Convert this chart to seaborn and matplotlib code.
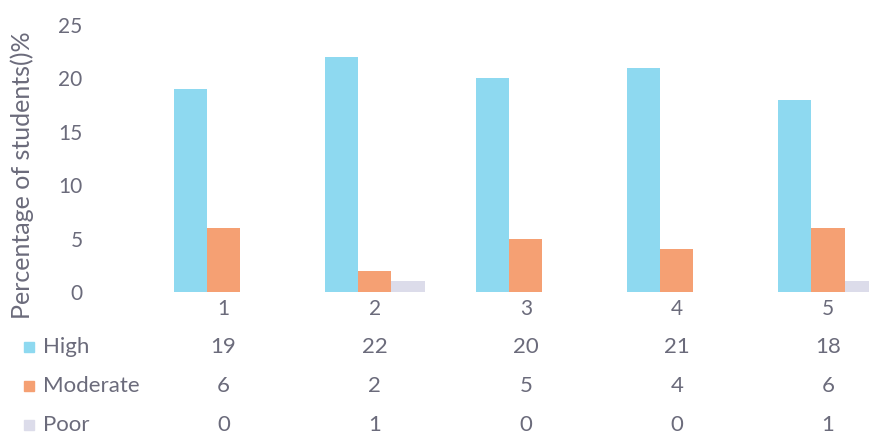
import matplotlib
matplotlib.use("Agg")
import matplotlib.pyplot as plt
import matplotlib.transforms as mtransforms
from matplotlib.patches import Rectangle
import pandas as pd
import seaborn as sns

categories = ["1", "2", "3", "4", "5"]
series = ["High", "Moderate", "Poor"]
high = [19, 22, 20, 21, 18]
moderate = [6, 2, 5, 4, 6]
poor = [0, 1, 0, 0, 1]
colors = ["#8ed9f0", "#f5a073", "#dcdcea"]

df = pd.DataFrame({
    "cat": categories * 3,
    "level": [s for s in series for _ in categories],
    "value": high + moderate + poor,
})

sns.set_style("white")
plt.rcParams["font.family"] = ["Lato", "DejaVu Sans"]
text_col = "#6b6b7b"

W, H = 869, 434
fig = plt.figure(figsize=(W / 100, H / 100), dpi=100)
ax = fig.add_axes([148 / W, (H - 292) / H, (W - 148) / W, (292 - 25) / H])

sns.barplot(data=df, x="cat", y="value", hue="level", palette=colors,
            saturation=1, width=0.66, gap=0, linewidth=0, ax=ax, legend=False)

ax.set_ylim(0, 25)
ax.set_xlim(-0.5, (W - 224) / 151)
ax.set_yticks([0, 5, 10, 15, 20, 25])
ax.set_xticks([])
ax.set_xlabel("")
ax.set_ylabel("")
ax.tick_params(axis="y", labelsize=15, labelcolor=text_col, length=0, pad=47)
for sp in ax.spines.values():
    sp.set_visible(False)

fig.text(22 / W, 1 - 175 / H, "Percentage of students()%", rotation=90,
         ha="center", va="center", fontsize=18, color=text_col)

# data table under the chart
trans = mtransforms.blended_transform_factory(ax.transData, fig.transFigure)
for i, c in enumerate(categories):
    ax.text(i, 1 - 309 / H, c, transform=trans, ha="center", va="center",
            fontsize=15, color=text_col, clip_on=False)

rows_y = [347, 386, 425]
for name, vals, col, yy in zip(series, [high, moderate, poor], colors, rows_y):
    fig.patches.append(Rectangle((24 / W, 1 - (yy + 5) / H), 10 / W, 10 / H,
                                 transform=fig.transFigure, color=col))
    fig.text(43 / W, 1 - yy / H, name, ha="left", va="center",
             fontsize=16, color=text_col)
    for i, v in enumerate(vals):
        ax.text(i, 1 - yy / H, str(v), transform=trans, ha="center",
                va="center", fontsize=16, color=text_col, clip_on=False)

fig.savefig("out.png", dpi=100)
